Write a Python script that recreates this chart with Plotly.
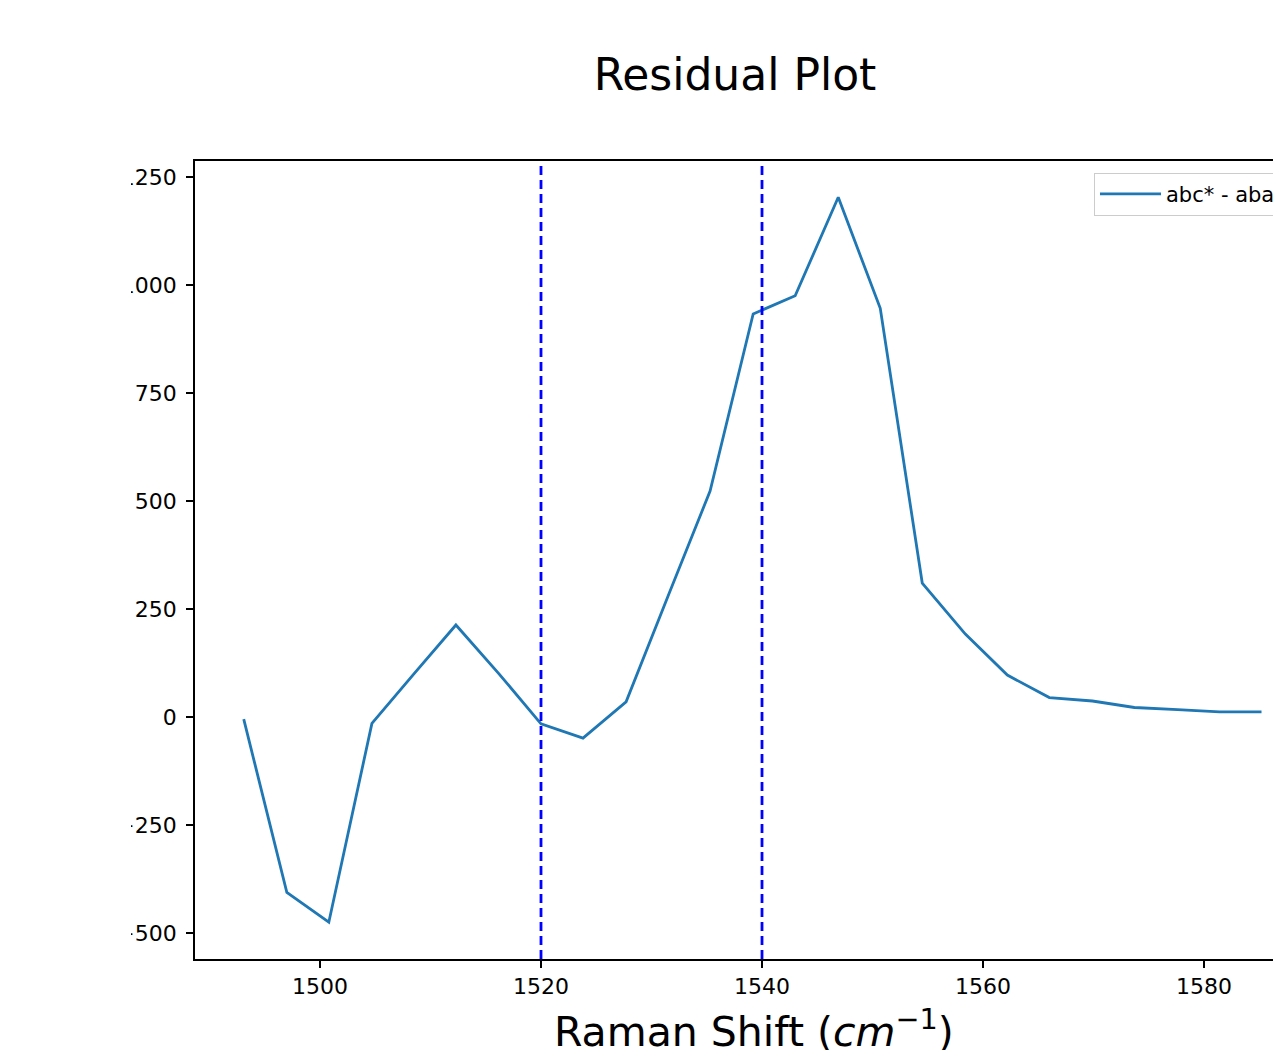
import plotly.graph_objects as go

# Data
raman_shift = [1493.1, 1497.0, 1500.8, 1504.7, 1508.5, 1512.3, 1516.2, 1520.0,
               1523.8, 1527.7, 1531.5, 1535.3, 1539.2, 1543.0, 1546.9, 1550.7,
               1554.5, 1558.4, 1562.2, 1566.0, 1569.9, 1573.7, 1577.6, 1581.4, 1585.2]
residual = [-5, -406, -475, -15, 100, 213, 100, -16,
            -49, 35, 280, 523, 933, 975, 1203, 946,
            310, 192, 97, 45, 37, 22, 17, 12, 12]
vlines_x = [1520, 1540]
x_ticks = [1500, 1520, 1540, 1560, 1580]
y_ticks = [-500, -250, 0, 250, 500, 750, 1000, 1250]
series_name = "abc* - aba*"

FONT = "DejaVu Sans"

fig = go.Figure()
fig.add_trace(go.Scatter(
    x=raman_shift, y=residual, mode="lines", name=series_name,
    line=dict(color="#1f77b4", width=2.8),
))

for xv in vlines_x:
    fig.add_shape(type="line", xref="x", yref="paper", x0=xv, x1=xv, y0=0, y1=1,
                  line=dict(color="#0000ff", width=2.8, dash="9px,5px"), layer="above")

# white band emulating the cropped left edge of the original image
fig.add_shape(type="rect", xref="paper", yref="paper", x0=-0.25, x1=(131 - 195) / 1078,
              y0=-0.2, y1=1.3, fillcolor="white", line=dict(width=0), layer="above")

fig.add_annotation(text="Raman Shift (<i>cm</i><sup>−1</sup>)", xref="paper", yref="paper",
                   x=(754 - 195) / 1078, y=(959 - 1029) / 798, xanchor="center", yanchor="middle",
                   showarrow=False, font=dict(family=FONT, size=41, color="black"))

fig.update_layout(
    width=1273, height=1050,
    margin=dict(l=195, r=0, t=161, b=91, autoexpand=False),
    paper_bgcolor="white", plot_bgcolor="white",
    font=dict(family=FONT, color="black"),
    title=dict(text="Residual Plot", x=735 / 1273, xanchor="center", xref="container",
               y=1 - 75 / 1050, yanchor="middle", yref="container",
               font=dict(family=FONT, size=44, color="black")),
    showlegend=True,
    legend=dict(x=(1094 - 195) / 1078, y=(959 - 172.7) / 798, xanchor="left", yanchor="top",
                bordercolor="#cccccc", borderwidth=1, bgcolor="rgba(255,255,255,0.8)",
                itemwidth=61,
                font=dict(family=FONT, size=21, color="black")),
    xaxis=dict(range=[1488.69, 1586.24], tickvals=x_ticks, showgrid=False, zeroline=False,
               showline=True, linecolor="black", linewidth=1.8, mirror=True,
               ticks="outside", ticklen=7, tickwidth=1.5, tickcolor="black",
               tickfont=dict(family=FONT, size=22, color="black")),
    yaxis=dict(range=[-560.2, 1287], tickvals=y_ticks, showgrid=False, zeroline=False,
               showline=True, linecolor="black", linewidth=1.8,
               ticks="outside", ticklen=7, tickwidth=1.5, tickcolor="black",
               ticklabelstandoff=5,
               tickfont=dict(family=FONT, size=22, color="black")),
)

fig.write_html("out.html")
